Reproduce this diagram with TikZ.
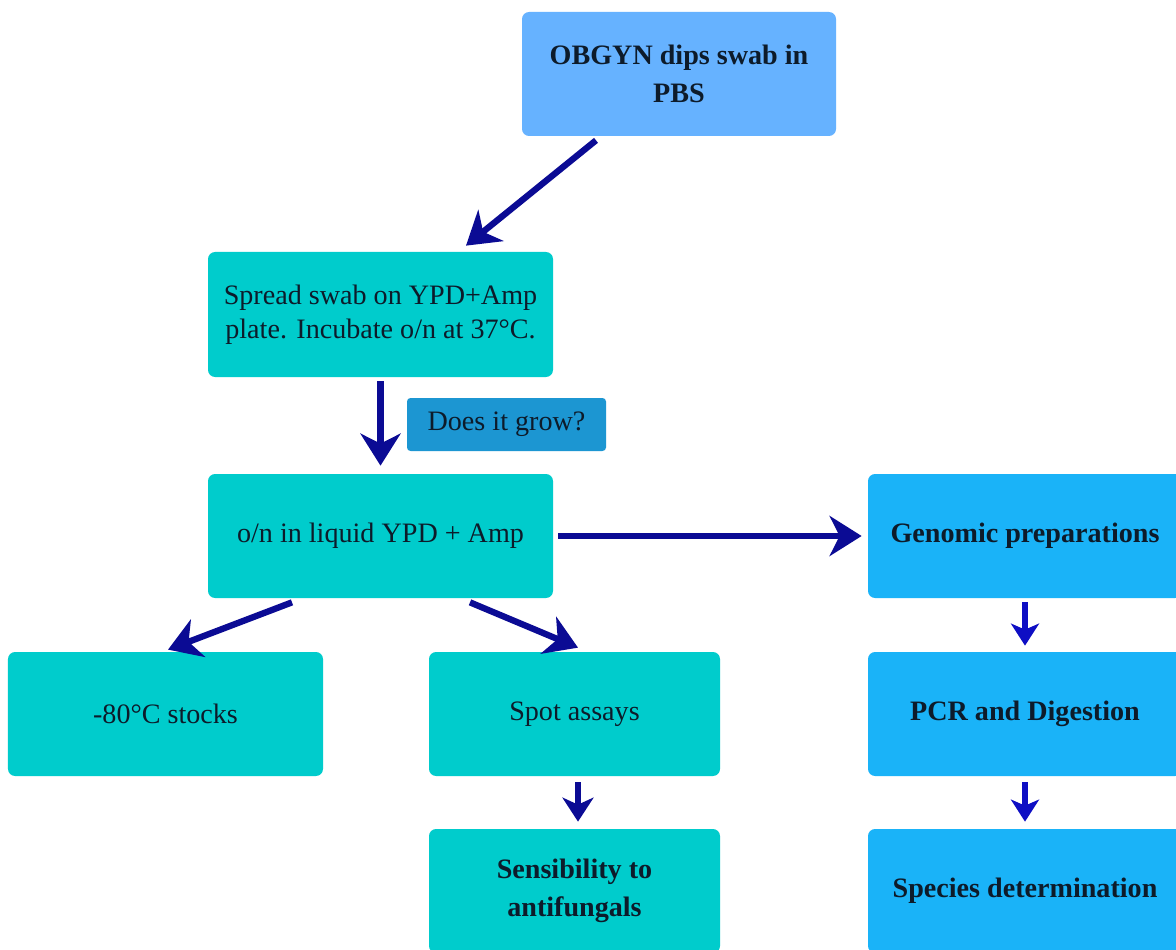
\documentclass[tikz,border=0pt]{standalone}
\usepackage{fontspec}
\setmainfont{LiberationSerif}[Extension=.ttf, UprightFont=*-Regular, BoldFont=*-Bold, ItalicFont=*-Italic, BoldItalicFont=*-BoldItalic]
\usepackage{tikz}
\usetikzlibrary{arrows.meta, positioning}
\usepackage{xcolor}
\definecolor{SkyTop}{HTML}{66B2FF}
\definecolor{TealBox}{HTML}{00CCCC}
\definecolor{GrowBlue}{HTML}{1C96D2}
\definecolor{CyanBox}{HTML}{1AB3F8}
\definecolor{InkNavy}{HTML}{0D1B2A}
\definecolor{ArrowNavy}{HTML}{0B0B94}
\definecolor{ArrowBlue}{HTML}{0E0EC4}

\begin{document}
\begin{tikzpicture}[
    box/.style={rectangle, rounded corners=4pt, draw=none, align=center,
                minimum height=2.48cm, text=InkNavy,
                font=\fontsize{16}{19.5}\selectfont},
    boldbox/.style={box, font=\fontsize{16}{22}\selectfont\bfseries},
    arrow/.style={-{Stealth[length=0.64cm, width=0.8cm, inset=0.2cm]}, line width=3.6pt, color=ArrowNavy},
    short/.style={-{Stealth[length=0.48cm, width=0.62cm, inset=0.14cm]}, line width=3.3pt, color=ArrowNavy},
    tiny/.style={-{Stealth[length=0.44cm, width=0.56cm, inset=0.12cm]}, line width=3pt, color=ArrowBlue}
]
    \useasboundingbox[fill=white] (0,0) rectangle (23.52,-19);
    \node[boldbox, minimum width=6.28cm, fill=SkyTop] (dip) at (13.58,-1.48) {OBGYN dips swab in\\PBS};
    \node[box, minimum width=6.9cm, minimum height=2.5cm, fill=TealBox] (plate) at (7.61,-6.29) {Spread swab on YPD+Amp\\plate. Incubate o/n at 37°C.};
    \node[box, minimum width=3.98cm, minimum height=1.06cm, rounded corners=2pt, fill=GrowBlue] (grow) at (10.13,-8.49) {Does it grow?};
    \node[box, minimum width=6.9cm, fill=TealBox] (liquid) at (7.61,-10.72) {o/n in liquid YPD + Amp};
    \node[boldbox, minimum width=6.28cm, fill=CyanBox] (genomic) at (20.5,-10.72) {Genomic preparations};
    \node[box, minimum width=6.3cm, fill=TealBox] (stocks) at (3.31,-14.28) {-80°C stocks};
    \node[box, minimum width=5.82cm, fill=TealBox] (spot) at (11.49,-14.28) {Spot assays};
    \node[boldbox, minimum width=5.82cm, fill=TealBox] (sens) at (11.49,-17.82) {Sensibility to\\antifungals};
    \node[boldbox, minimum width=6.28cm, fill=CyanBox] (pcr) at (20.5,-14.28) {PCR and Digestion};
    \node[boldbox, minimum width=6.28cm, fill=CyanBox] (species) at (20.5,-17.82) {Species determination};
    % connectors
    \draw[arrow] ([xshift=-1.66cm, yshift=-0.08cm]dip.south) -- ([xshift=1.71cm, yshift=0.12cm]plate.north);
    \draw[arrow] ([yshift=-0.08cm]plate.south) -- ([yshift=0.16cm]liquid.north);
    \draw[arrow] ([xshift=0.1cm]liquid.east) -- ([xshift=-0.12cm]genomic.west);
    \draw[arrow] ([xshift=-1.77cm, yshift=-0.08cm]liquid.south) -- ([xshift=0.05cm, yshift=0.04cm]stocks.north);
    \draw[arrow] ([xshift=1.79cm, yshift=-0.08cm]liquid.south) -- ([xshift=0.07cm, yshift=0.08cm]spot.north);
    \draw[short] ([xshift=0.07cm, yshift=-0.12cm]spot.south) -- ([xshift=0.07cm, yshift=0.14cm]sens.north);
    \draw[tiny] ([yshift=-0.08cm]genomic.south) -- ([yshift=0.12cm]pcr.north);
    \draw[tiny] ([yshift=-0.12cm]pcr.south) -- ([yshift=0.14cm]species.north);
\end{tikzpicture}
\end{document}
